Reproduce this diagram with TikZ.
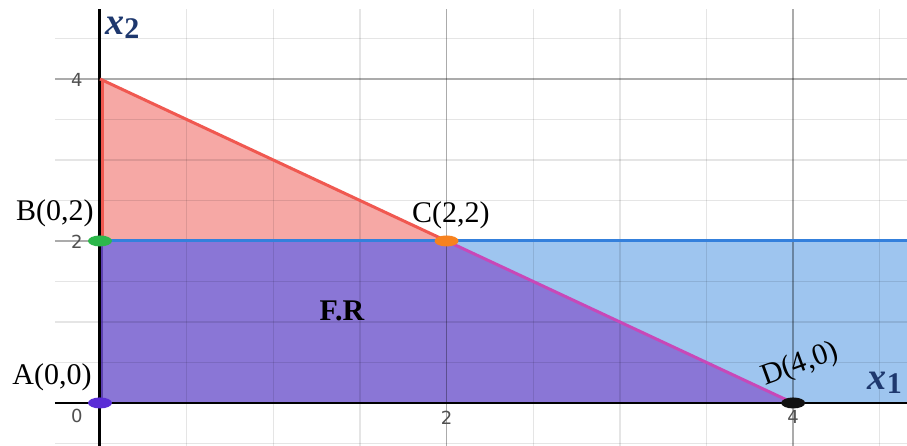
\documentclass[tikz,border=0pt]{standalone}
\usepackage{fontspec}
\setmainfont{Liberation Serif}
\newfontfamily\ticksfont{DejaVu Sans}
\definecolor{redfill}{RGB}{246,168,165}
\definecolor{purplefill}{RGB}{138,118,214}
\definecolor{bluefill}{RGB}{158,197,239}
\definecolor{redline}{RGB}{240,88,80}
\definecolor{magline}{RGB}{200,72,184}
\definecolor{blueline}{RGB}{52,128,220}
\definecolor{ticktext}{RGB}{80,80,80}
\definecolor{axislabel}{RGB}{30,56,110}
\definecolor{ptgreen}{RGB}{45,184,75}
\definecolor{ptorange}{RGB}{247,130,30}
\definecolor{ptpurple}{RGB}{90,45,214}
\definecolor{ptblack}{RGB}{17,17,17}
\usetikzlibrary{shapes.geometric}
\tikzset{
  pt/.style={ellipse, minimum width=24pt, minimum height=11pt, inner sep=0pt},
  ptlabel/.style={font=\fontsize{30}{34}\selectfont, inner sep=0pt},
  ticklab/.style={font=\ticksfont\fontsize{18}{20}\selectfont, text=ticktext, inner sep=0pt},
  axlab/.style={font=\fontsize{38}{40}\selectfont\bfseries\itshape, text=axislabel, inner sep=0pt},
  gridminor/.style={black, line width=1.3pt, opacity=0.1},
  gridmajor/.style={black, line width=1.5pt, opacity=0.33},
}
\begin{document}
\begin{tikzpicture}[x=173.3pt, y=81pt]
\clip (-0.577,-0.531) rectangle (4.657,4.975);
\useasboundingbox (-0.577,-0.531) rectangle (4.657,4.975);
\fill[white] (-0.577,-0.531) rectangle (4.657,4.975);
% regions
\fill[redfill] (0,2) -- (0,4) -- (2,2) -- cycle;
\fill[purplefill] (0,0) -- (0,2) -- (2,2) -- (4,0) -- cycle;
\fill[bluefill] (2,2) -- (4,0) -- (4.7,0) -- (4.7,2) -- cycle;
% grid
\foreach \gx in {0.5,1,1.5,2.5,3,3.5,4.5}
  \draw[gridminor] (\gx,-0.6) -- (\gx,4.864);
\foreach \gy in {-0.5,0.5,1,1.5,2.5,3,3.5,4.5}
  \draw[gridminor] (-0.26,\gy) -- (4.7,\gy);
\foreach \gx in {2,4}
  \draw[gridmajor] (\gx,-0.6) -- (\gx,4.864);
\foreach \gy in {2,4}
  \draw[gridmajor] (-0.26,\gy) -- (4.7,\gy);
% axes
\draw[black, line width=2pt] (-0.26,0) -- (4.7,0);
\draw[black, line width=3pt] (0,-0.6) -- (0,4.864);
% constraint lines
\draw[redline, line width=3pt] (0.014,2) -- (0.014,4);
\draw[ptpurple!70!black, line width=2pt, opacity=0.6] (0.014,0) -- (0.014,2);
\draw[redline, line width=3pt] (0,4) -- (2,2);
\draw[magline, line width=3pt] (2,2) -- (4,0);
\draw[blueline, line width=3pt] (0,2) -- (4.7,2);
% points
\node[pt, fill=ptpurple] (A) at (0,0) {};
\node[pt, fill=ptgreen] (B) at (0,2) {};
\node[pt, fill=ptorange] (C) at (2,2) {};
\node[pt, fill=ptblack] (D) at (4,0) {};
% labels
\node[ptlabel] (lA) at (-0.277,0.321) {A(0,0)};
\node[ptlabel] (lB) at (-0.26,2.346) {B(0,2)};
\node[ptlabel] (lC) at (2.025,2.321) {C(2,2)};
\node[ptlabel, rotate=20] (lD) at (4.039,0.469) {D(4,0)};
\node[ptlabel, font=\fontsize{30}{34}\selectfont\bfseries] (FR) at (1.396,1.136) {F.R};
% tick labels
\node[ticklab] (t4) at (-0.133,3.988) {4};
\node[ticklab] (t2) at (-0.133,1.988) {2};
\node[ticklab] (t0) at (-0.133,-0.16) {0};
\node[ticklab] (tx2) at (2.0,-0.185) {2};
\node[ticklab] (tx4) at (4.0,-0.173) {4};
% axis labels
\node[axlab, anchor=west] (x2) at (0.03,4.63) {x\raisebox{-0.25ex}{\upshape\fontsize{30}{32}\selectfont 2}};
\node[axlab, anchor=west] (x1) at (4.43,0.25) {x\raisebox{-0.25ex}{\upshape\fontsize{30}{32}\selectfont 1}};
\end{tikzpicture}
\end{document}
